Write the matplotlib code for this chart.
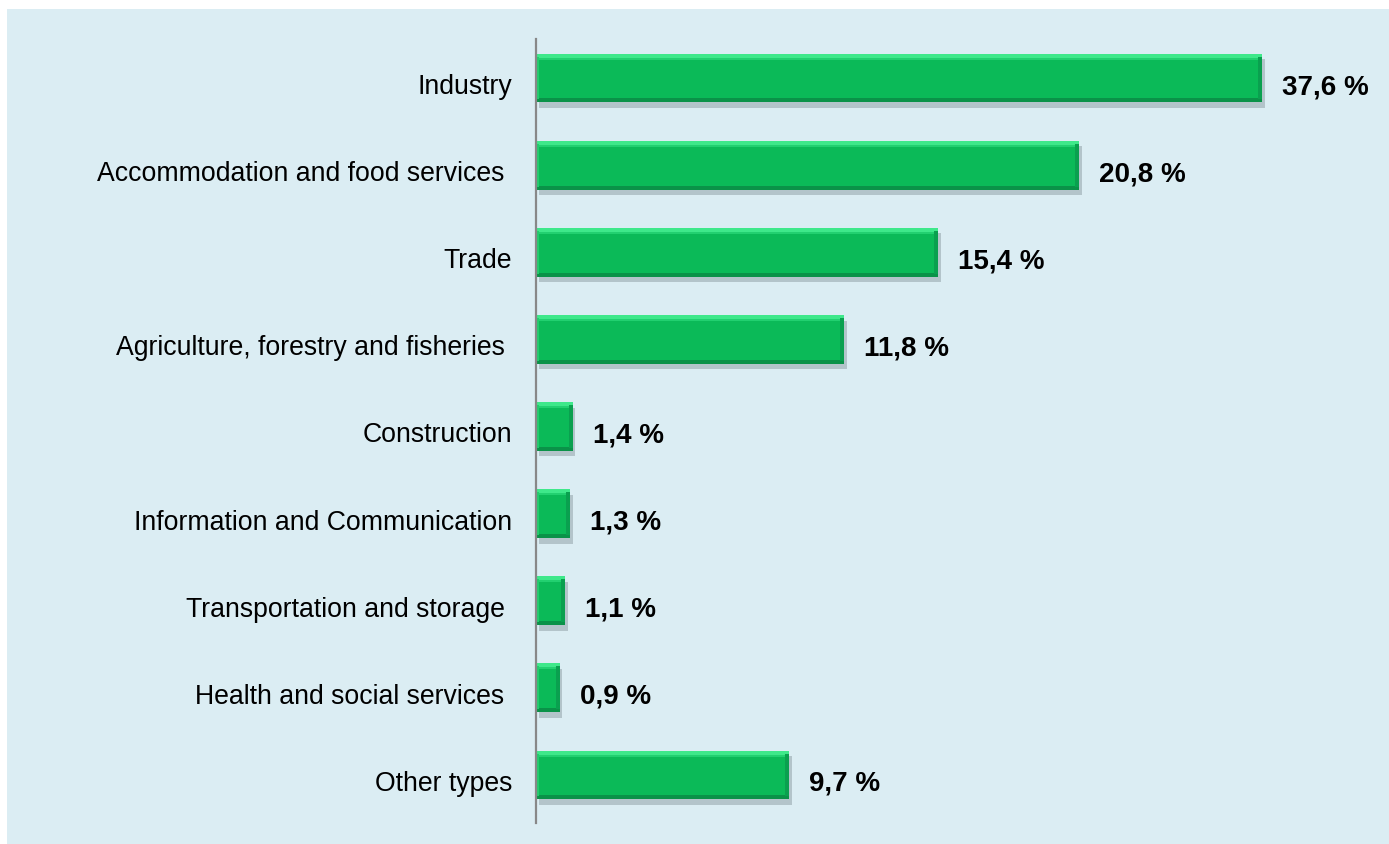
import numpy as np
import matplotlib
matplotlib.use('Agg')
import matplotlib.pyplot as plt
import matplotlib.patheffects as pe
from matplotlib.patches import Rectangle

plt.rcParams['font.family'] = ['Liberation Sans', 'DejaVu Sans']

categories = ['Industry', 'Accommodation and food services ', 'Trade',
              'Agriculture, forestry and fisheries ', 'Construction',
              'Information and Communication', 'Transportation and storage ',
              'Health and social services ', 'Other types']
values = [37.6, 20.8, 15.4, 11.8, 1.4, 1.3, 1.1, 0.9, 9.7]
value_labels = ['37,6 %', '20,8 %', '15,4 %', '11,8 %', '1,4 %', '1,3 %',
                '1,1 %', '0,9 %', '9,7 %']

W, H = 1389, 845
fig = plt.figure(figsize=(W / 100, H / 100), dpi=100)
fig.patch.set_facecolor('white')
fig.patches.append(Rectangle((7 / W, 0), 1 - 7 / W, 1 - 10 / H,
                             transform=fig.transFigure, facecolor='#dbedf3',
                             edgecolor='none', zorder=-10))

ax = fig.add_axes([536 / W, 1 - 819.5 / H, 726 / W, 784 / H])
ax.set_facecolor('none')

x_max = 27.8  # the longest bar is drawn shortened, as in the original
y = np.arange(len(categories))
shown = np.minimum(values, x_max)
h = 0.56
px_y = 1 / 87.1
px_x = x_max / 726

shadow = [pe.SimplePatchShadow(offset=(2, -4), shadow_rgbFace='#6a7a80', alpha=0.35), pe.Normal()]
ax.barh(y, shown, height=h, color='#0bba58', edgecolor='none', zorder=2,
        path_effects=shadow, clip_on=False)
# bevel: light top strip, dark bottom strip, dark right end, light left edge
ax.barh(y - h / 2 + 2 * px_y, shown, height=4 * px_y, color='#3ee88a',
        edgecolor='none', zorder=3, clip_on=False)
ax.barh(y - h / 2 + 5 * px_y, shown, height=2 * px_y, color='#22d070',
        edgecolor='none', zorder=3, clip_on=False)
ax.barh(y + h / 2 - 2 * px_y, shown, height=4 * px_y, color='#0a9248',
        edgecolor='none', zorder=3, clip_on=False)
ax.barh(y, 4 * px_x, left=shown - 4 * px_x, height=h - 6 * px_y,
        color='#0aa04f', edgecolor='none', zorder=3, clip_on=False)
ax.barh(y, 3 * px_x, left=0, height=h - 6 * px_y,
        color='#22cc6e', edgecolor='none', zorder=3, clip_on=False)

for yi, v, lab in zip(y, shown, value_labels):
    ax.annotate(lab, (v, yi), xytext=(14.5, -10.8), textcoords='offset points',
                ha='left', va='baseline', fontsize=20, fontweight='bold',
                color='black', annotation_clip=False)

for yi, cat in zip(y, categories):
    ax.annotate(cat, (0, yi), xytext=(-17.3, -10.8), textcoords='offset points',
                ha='right', va='baseline', fontsize=19.2, color='black',
                annotation_clip=False)

ax.set_xlim(0, x_max)
ax.set_ylim(len(categories) - 0.5, -0.5)
ax.set_yticks([])
ax.set_xticks([])
for s in ['top', 'right', 'bottom']:
    ax.spines[s].set_visible(False)
ax.spines['left'].set_color('#888888')
ax.spines['left'].set_linewidth(1.6)
ax.spines['left'].set_zorder(5)
ax.spines['left'].set_bounds(len(categories) - 0.45, -0.45)

fig.savefig('out.png', dpi=100)
